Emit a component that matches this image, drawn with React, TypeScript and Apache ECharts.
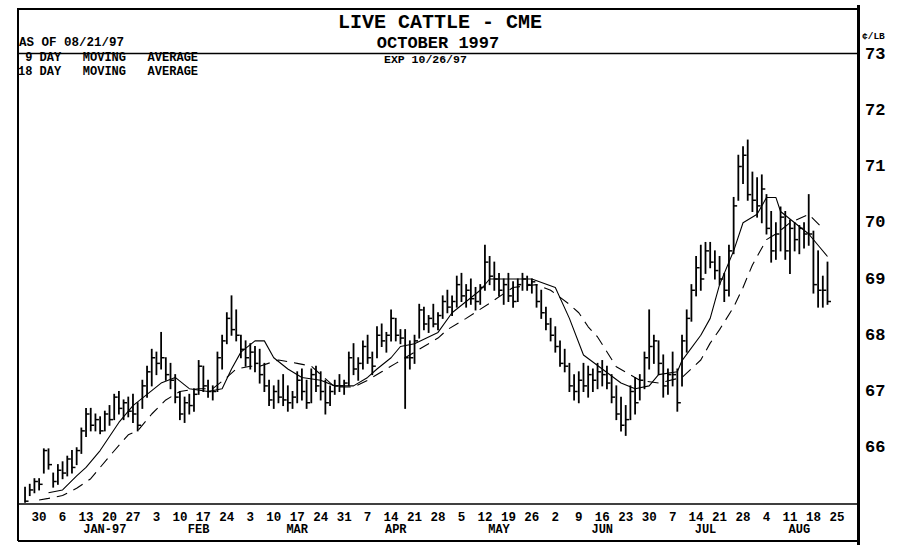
import React, { useEffect, useRef } from "react";
import * as echarts from "echarts";

// ---------- texts ----------
const TITLE = "LIVE CATTLE - CME";
const SUBTITLE = "OCTOBER 1997";
const AS_OF = "AS OF 08/21/97";
const EXPIRY = "EXP 10/26/97";
const NB3 = "\u00A0\u00A0\u00A0";
const LEGEND_SHORT = "\u00A09 DAY" + NB3 + "MOVING" + NB3 + "AVERAGE";
const LEGEND_LONG = "18 DAY" + NB3 + "MOVING" + NB3 + "AVERAGE";
const UNIT = "\u00A2/LB";

// ---------- x categories: every weekday of the chart window ----------
const FIRST_DAY = [1996, 11, 24];
const LAST_DAY = [1997, 7, 29];
const DATA_START_INDEX = 1; // first bar sits in the second weekday slot

// month captions and the weekday slot under which each one is centred
const monthLabels = ["JAN-97", "FEB", "MAR", "APR", "MAY", "JUN", "JUL", "AUG"];
const monthAnchors = ["1997-01-17", "1997-02-14", "1997-03-17", "1997-04-15", "1997-05-15", "1997-06-16", "1997-07-16", "1997-08-13"];

// ---------- daily bars (cents / lb) ----------
const highs = [
  65.30, 65.35, 65.45, 65.45, 65.98, 65.98, 65.55, 65.70, 65.75, 65.85,
  65.95, 66.00, 66.35, 66.70, 66.70, 66.60, 66.55, 66.65, 66.75, 66.95,
  67.00, 66.85, 66.90, 66.95, 66.80, 67.20, 67.45, 67.75, 67.70, 68.05,
  67.60, 67.50, 67.30, 67.00, 66.90, 66.95, 67.05, 67.55, 67.45, 67.20,
  67.10, 67.70, 68.00, 68.40, 68.70, 68.45, 68.00, 67.90, 67.85, 67.80,
  67.75, 67.50, 67.20, 67.10, 67.20, 67.30, 67.10, 67.00, 67.35, 67.40,
  67.20, 67.40, 67.45, 67.35, 67.20, 67.10, 67.20, 67.30, 67.20, 67.70,
  67.85, 67.60, 67.90, 68.00, 67.70, 68.15, 68.20, 68.05, 68.45, 68.30,
  68.10, 68.10, 67.90, 68.00, 68.55, 68.50, 68.35, 68.55, 68.40, 68.70,
  68.80, 68.70, 69.05, 69.10, 68.90, 69.00, 68.85, 68.90, 69.60, 69.40,
  69.30, 69.10, 69.00, 69.10, 68.95, 69.00, 69.10, 69.05, 69.00, 68.90,
  68.80, 68.50, 68.30, 68.15, 67.90, 67.75, 67.50, 67.30, 67.35, 67.50,
  67.45, 67.40, 67.50, 67.55, 67.45, 67.30, 67.10, 66.90, 66.75, 67.10,
  67.25, 67.30, 67.70, 68.45, 68.00, 67.90, 67.65, 67.40, 67.70, 67.40,
  68.00, 68.45, 68.90, 69.40, 69.60, 69.65, 69.65, 69.50, 69.40, 69.10,
  69.60, 70.45, 71.20, 71.35, 71.47, 70.90, 70.80, 70.85, 70.50, 70.20,
  70.00, 70.28, 70.20, 70.05, 70.00, 69.95, 70.00, 70.50, 69.85, 69.50,
  69.05, 69.30,
];
const lows = [
  65.03, 65.15, 65.20, 65.25, 65.55, 65.62, 65.30, 65.35, 65.45, 65.50,
  65.55, 65.70, 65.90, 66.20, 66.30, 66.30, 66.25, 66.30, 66.40, 66.50,
  66.60, 66.50, 66.55, 66.45, 66.30, 66.70, 66.90, 67.10, 67.30, 67.40,
  67.20, 67.05, 66.80, 66.50, 66.45, 66.60, 66.65, 66.95, 67.00, 66.90,
  66.85, 67.00, 67.40, 67.85, 68.00, 67.90, 67.60, 67.45, 67.40, 67.35,
  67.15, 67.00, 66.75, 66.70, 66.80, 66.75, 66.65, 66.70, 66.80, 66.85,
  66.70, 66.80, 67.00, 66.85, 66.60, 66.75, 66.95, 67.00, 66.95, 67.10,
  67.30, 67.20, 67.40, 67.50, 67.30, 67.60, 67.80, 67.70, 67.90, 67.90,
  67.85, 66.70, 67.40, 67.50, 67.95, 68.10, 68.05, 68.15, 68.10, 68.30,
  68.40, 68.35, 68.50, 68.60, 68.50, 68.55, 68.45, 68.55, 68.80, 68.90,
  68.80, 68.70, 68.55, 68.60, 68.50, 68.60, 68.80, 68.80, 68.75, 68.50,
  68.30, 68.10, 67.90, 67.70, 67.45, 67.35, 67.00, 66.85, 66.80, 67.00,
  66.90, 67.00, 67.05, 67.10, 67.05, 66.80, 66.50, 66.30, 66.22, 66.50,
  66.60, 66.85, 67.05, 67.40, 67.50, 67.30, 66.90, 66.95, 67.10, 66.65,
  67.10, 67.70, 68.25, 68.70, 68.80, 69.10, 69.20, 69.00, 68.90, 68.60,
  68.70, 69.45, 70.40, 70.70, 70.40, 70.20, 70.10, 70.00, 69.80, 69.30,
  69.35, 69.50, 69.35, 69.10, 69.50, 69.45, 69.55, 69.60, 68.75, 68.50,
  68.50, 68.55,
];
const closes = [
  65.05, 65.25, 65.40, 65.35, 65.95, 65.70, 65.40, 65.60, 65.55, 65.80,
  65.65, 65.95, 66.30, 66.60, 66.40, 66.50, 66.30, 66.60, 66.50, 66.90,
  66.70, 66.80, 66.65, 66.60, 66.40, 67.10, 67.35, 67.60, 67.50, 67.60,
  67.30, 67.20, 66.90, 66.60, 66.80, 66.75, 66.95, 67.45, 67.10, 67.00,
  67.00, 67.60, 67.90, 68.30, 68.10, 68.00, 67.75, 67.60, 67.70, 67.50,
  67.30, 67.10, 66.85, 67.00, 66.90, 66.85, 66.80, 66.90, 67.20, 67.00,
  66.80, 67.30, 67.10, 67.00, 66.80, 67.00, 67.10, 67.10, 67.15, 67.60,
  67.40, 67.50, 67.80, 67.60, 67.45, 68.00, 67.90, 68.00, 68.30, 68.00,
  67.95, 67.60, 67.60, 67.90, 68.45, 68.20, 68.30, 68.20, 68.35, 68.60,
  68.50, 68.60, 68.90, 68.70, 68.80, 68.65, 68.60, 68.85, 69.30, 69.05,
  69.00, 68.80, 68.90, 68.70, 68.60, 68.90, 69.00, 68.90, 68.95, 68.60,
  68.40, 68.20, 68.00, 67.80, 67.50, 67.45, 67.10, 67.00, 67.20, 67.10,
  67.30, 67.20, 67.35, 67.30, 67.15, 66.90, 66.60, 66.40, 66.50, 67.00,
  66.80, 67.20, 67.60, 67.80, 67.90, 67.50, 67.10, 67.30, 67.30, 66.80,
  67.90, 68.30, 68.80, 69.20, 69.00, 69.50, 69.30, 69.15, 69.00, 68.80,
  69.50, 70.30, 71.00, 71.20, 70.50, 70.40, 70.30, 70.60, 69.90, 69.50,
  69.80, 70.10, 69.50, 69.90, 69.70, 69.90, 69.80, 69.80, 68.90, 68.80,
  68.80, 68.60,
];

// ---------- moving averages: [weekday slot, value] ----------
const maShort = [
  [6, 65.2], [9, 65.25], [12, 65.5], [14, 65.65], [17, 65.95], [19, 66.2], [21, 66.45],
  [24, 66.75], [27, 66.95], [30, 67.15], [33, 67.25], [36, 67.05], [40, 67.0], [43, 67.05],
  [45, 67.4], [47, 67.7], [50, 67.9], [52, 67.9], [54, 67.6], [57, 67.4], [60, 67.25],
  [64, 67.2], [67, 67.1], [71, 67.1], [74, 67.25], [76, 67.4], [79, 67.6], [81, 67.8],
  [84, 67.85], [89, 68.05], [92, 68.4], [98, 68.8], [100, 69.0], [104, 69.0], [109, 69.0],
  [114, 68.85], [117, 68.3], [120, 67.65], [124, 67.4], [128, 67.15], [131, 67.05],
  [134, 67.1], [136, 67.3], [140, 67.35], [141, 67.55], [145, 68.0], [147, 68.3],
  [149, 68.9], [152, 69.5], [154, 70.0], [157, 70.15], [159, 70.45], [161, 70.45],
  [162, 70.2], [165, 70.0], [168, 69.8], [170, 69.6], [172, 69.4],
];
const maLong = [
  [4, 65.07], [6, 65.1], [9, 65.15], [12, 65.28], [15, 65.45], [19, 65.85], [23, 66.23],
  [25, 66.3], [28, 66.6], [31, 66.85], [34, 67.0], [38, 67.05], [41, 67.05], [44, 67.25],
  [46, 67.4], [49, 67.45], [51, 67.45], [55, 67.56], [59, 67.5], [62, 67.45], [67, 67.08],
  [71, 67.08], [74, 67.2], [77, 67.35], [80, 67.5], [85, 67.75], [89, 67.95], [91, 68.1],
  [95, 68.3], [100, 68.57], [105, 68.85], [110, 68.9], [113, 68.8], [117, 68.55],
  [119, 68.4], [121, 68.15], [123, 67.97], [127, 67.44], [132, 67.2], [136, 67.15],
  [141, 67.25], [145, 67.56], [147, 67.86], [149, 68.1], [152, 68.5], [154, 68.85],
  [156, 69.25], [159, 69.7], [161, 69.8], [164, 70.0], [168, 70.15], [171, 69.9],
];

// ---------- y axis ----------
const Y_MIN = 65;
const Y_MAX = 73;
const Y_STEP = 1;

const FONT = "'Courier New', 'Liberation Mono', monospace";

function iso(d: Date) {
  const m = String(d.getUTCMonth() + 1).padStart(2, "0");
  const day = String(d.getUTCDate()).padStart(2, "0");
  return `${d.getUTCFullYear()}-${m}-${day}`;
}

function buildCategories(): string[] {
  const out: string[] = [];
  const d = new Date(Date.UTC(FIRST_DAY[0], FIRST_DAY[1], FIRST_DAY[2]));
  const end = Date.UTC(LAST_DAY[0], LAST_DAY[1], LAST_DAY[2]);
  while (d.getTime() <= end) {
    const wd = d.getUTCDay();
    if (wd !== 0 && wd !== 6) out.push(iso(d));
    d.setUTCDate(d.getUTCDate() + 1);
  }
  return out;
}

export default function App() {
  const ref = useRef<HTMLDivElement>(null);

  useEffect(() => {
    if (!ref.current) return;
    const chart = echarts.init(ref.current, undefined, { renderer: "svg" });
    const categories = buildCategories();
    const isMonday = (v: string) => new Date(v + "T00:00:00Z").getUTCDay() === 1;

    const bars = highs.map((h, i) => [i + DATA_START_INDEX, h, lows[i], closes[i]]);

    const txt = (x: number, y: number, text: string, size: number, align: string) => ({
      type: "text",
      x,
      y,
      z: 100,
      style: {
        text,
        fill: "#000",
        fontSize: size,
        fontWeight: "bold",
        fontFamily: FONT,
        textAlign: align,
        align,
        textVerticalAlign: "middle",
        verticalAlign: "middle",
      },
    });
    const ln = (x1: number, y1: number, x2: number, y2: number, w: number) => ({
      type: "line",
      z: 100,
      shape: { x1, y1, x2, y2 },
      style: { stroke: "#000", lineWidth: w },
    });

    chart.setOption({
      animation: false,
      backgroundColor: "#fff",
      grid: { left: 18, right: 56, top: 54, bottom: 46, containLabel: false },
      xAxis: [
        {
          type: "category",
          data: categories,
          boundaryGap: true,
          axisLine: { show: true, lineStyle: { color: "#000", width: 1.6 } },
          axisTick: { show: false },
          splitLine: { show: false },
          axisLabel: {
            interval: (_i: number, v: string) => isMonday(v),
            formatter: (v: string) => String(Number(v.slice(8, 10))),
            color: "#000",
            fontFamily: FONT,
            fontWeight: "bold",
            fontSize: 12.5,
            margin: 7,
          },
        },
        {
          type: "category",
          data: categories,
          boundaryGap: true,
          position: "bottom",
          offset: 13,
          axisLine: { show: false },
          axisTick: { show: false },
          splitLine: { show: false },
          axisLabel: {
            interval: (_i: number, v: string) => monthAnchors.indexOf(v) >= 0,
            formatter: (v: string) => monthLabels[monthAnchors.indexOf(v)] || "",
            color: "#000",
            fontFamily: FONT,
            fontWeight: "bold",
            fontSize: 12,
            margin: 7,
          },
        },
      ],
      yAxis: {
        type: "value",
        position: "right",
        min: Y_MIN,
        max: Y_MAX,
        interval: Y_STEP,
        name: UNIT,
        nameLocation: "end",
        nameGap: 13,
        nameTextStyle: { color: "#000", fontFamily: FONT, fontWeight: "bold", fontSize: 9.5, align: "left", padding: [0, 0, 0, 4] },
        axisLine: { show: false },
        axisTick: { show: false },
        splitLine: { show: false },
        axisLabel: {
          color: "#000",
          fontFamily: FONT,
          fontWeight: "bold",
          fontSize: 17,
          margin: 7,
          formatter: (v: number) => (v === Y_MIN ? "" : String(v)),
        },
      },
      series: [
        {
          name: "Price",
          type: "custom",
          xAxisIndex: 0,
          encode: { x: 0, y: [1, 2, 3] },
          data: bars,
          z: 5,
          renderItem: (_p: any, api: any) => {
            const x = api.value(0);
            const hi = api.coord([x, api.value(1)]);
            const lo = api.coord([x, api.value(2)]);
            const cl = api.coord([x, api.value(3)]);
            const style = { stroke: "#000", lineWidth: 1.8 };
            return {
              type: "group",
              children: [
                { type: "line", shape: { x1: hi[0], y1: hi[1] - 0.5, x2: lo[0], y2: lo[1] + 0.5 }, style },
                { type: "line", shape: { x1: cl[0], y1: cl[1], x2: cl[0] + 3.5, y2: cl[1] }, style: { stroke: "#000", lineWidth: 1.5 } },
              ],
            };
          },
        },
        {
          name: "9 DAY MOVING AVERAGE",
          type: "line",
          xAxisIndex: 0,
          data: maShort,
          showSymbol: false,
          symbol: "none",
          z: 6,
          lineStyle: { color: "#000", width: 1.1, type: "solid" },
        },
        {
          name: "18 DAY MOVING AVERAGE",
          type: "line",
          xAxisIndex: 0,
          data: maLong,
          showSymbol: false,
          symbol: "none",
          z: 6,
          lineStyle: { color: "#000", width: 1.1, type: [11, 7] },
        },
      ],
      graphic: [
        ln(17, 9, 858, 9, 2),
        ln(18, 9, 18, 541, 2),
        ln(18, 541, 858, 541, 2),
        ln(858.5, 5, 858.5, 545, 3),
        ln(18, 53.5, 858, 53.5, 1.5),
        txt(440, 22, TITLE, 20, "center"),
        txt(438, 43, SUBTITLE, 17, "center"),
        txt(19, 43, AS_OF, 12.5, "left"),
        txt(384, 59, EXPIRY, 11.5, "left"),
        txt(18, 58, LEGEND_SHORT, 12, "left"),
        txt(18, 71.5, LEGEND_LONG, 12, "left"),
      ],
    });

    return () => chart.dispose();
  }, []);

  return (
    <div
      ref={ref}
      style={{ position: "fixed", left: 0, top: 0, width: 914, height: 550, background: "#fff" }}
    />
  );
}
